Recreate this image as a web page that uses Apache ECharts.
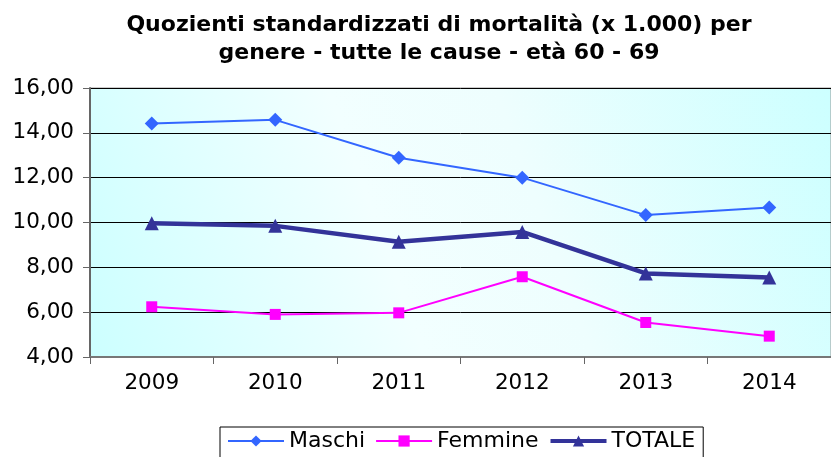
<!DOCTYPE html>
<html><head><meta charset="utf-8">
<script src="https://cdn.jsdelivr.net/npm/echarts@6/dist/echarts.min.js"></script>
<style>html,body{margin:0;padding:0;background:#fff}#c{width:831px;height:457px}</style>
</head><body><div id="c"></div>
<script>
const categories = ['2009','2010','2011','2012','2013','2014'];
const maschi = [14.42, 14.58, 12.89, 12.00, 10.33, 10.67];
const femmine = [6.24, 5.90, 5.97, 7.58, 5.54, 4.93];
const totale = [9.97, 9.85, 9.14, 9.58, 7.73, 7.55];
const yTicks = [4, 6, 8, 10, 12, 14, 16];

const FONT = 'DejaVu Sans';
const chart = echarts.init(document.getElementById('c'), null, {renderer:'canvas'});
chart.setOption({
  animation: false,
  title: {
    text: 'Quozienti standardizzati di mortalità (x 1.000) per\ngenere - tutte le cause - età 60 - 69',
    left: 434, top: 6, textAlign: 'center',
    textStyle: {fontFamily: FONT, fontWeight: 'bold', fontSize: 22, lineHeight: 28, color: '#000'}
  },
  legend: {
    left: 220, top: 427,
    padding: [3, 8, 6, 7],
    borderColor: '#000', borderWidth: 1,
    itemWidth: 56, itemHeight: 14, itemGap: 10,
    textStyle: {fontFamily: FONT, fontSize: 22, color: '#000'},
    data: [
      {name: 'Maschi', lineStyle: {width: 2}},
      {name: 'Femmine', lineStyle: {width: 2}},
      {name: 'TOTALE', lineStyle: {width: 4}}
    ]
  },
  grid: {
    left: 90, top: 88, width: 748, height: 269,
    show: true, borderColor: '#999', borderWidth: 1,
    backgroundColor: new echarts.graphic.LinearGradient(0, 1, 1, 0, [
      {offset: 0, color: '#ccffff'},
      {offset: 0.4, color: '#f2ffff'},
      {offset: 0.6, color: '#eefefe'},
      {offset: 1, color: '#ccffff'}
    ])
  },
  xAxis: {
    type: 'category', data: categories, boundaryGap: true,
    axisLine: {lineStyle: {color: '#777', width: 2}},
    axisTick: {show: true, length: 7, lineStyle: {color: '#666', width: 1}},
    axisLabel: {fontFamily: FONT, fontSize: 21.5, color: '#000', margin: 15}
  },
  yAxis: {
    type: 'value', min: 4, max: 16, interval: 2,
    axisLine: {show: true, lineStyle: {color: '#666', width: 2}},
    axisTick: {show: true, length: 7, lineStyle: {color: '#666'}},
    splitLine: {lineStyle: {color: '#000', width: 1}},
    axisLabel: {fontFamily: FONT, fontSize: 21.5, color: '#000', margin: 16,
      formatter: v => v.toFixed(2).replace('.', ',')}
  },
  series: [
    {name: 'Maschi', type: 'line', data: maschi, symbol: 'diamond', symbolSize: 14,
     color: '#3366ff', lineStyle: {width: 2, color: '#3366ff'}, itemStyle: {color: '#3366ff'}},
    {name: 'Femmine', type: 'line', data: femmine, symbol: 'rect', symbolSize: 11,
     color: '#ff00ff', lineStyle: {width: 2, color: '#ff00ff'}, itemStyle: {color: '#ff00ff'}},
    {name: 'TOTALE', type: 'line', data: totale, symbol: 'triangle', symbolSize: 14,
     color: '#333399', lineStyle: {width: 4.5, color: '#333399'}, itemStyle: {color: '#333399'}}
  ]
});
</script></body></html>
